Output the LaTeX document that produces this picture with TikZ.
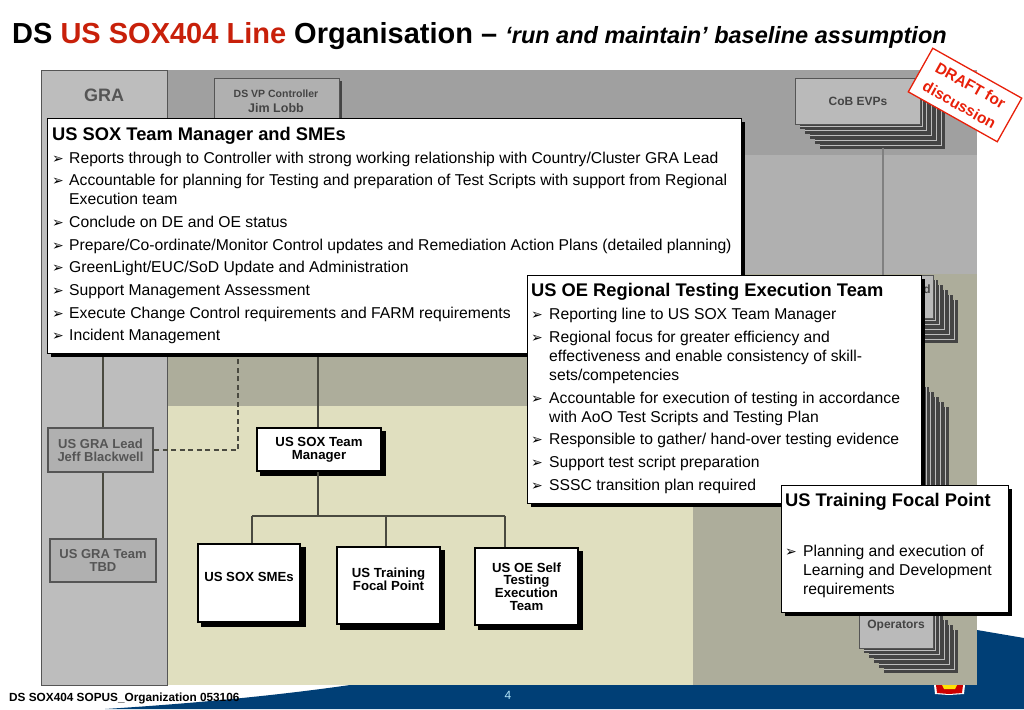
\documentclass[tikz,border=0pt]{standalone}
\usepackage{fontspec}
\setmainfont{Liberation Sans}
\newfontfamily\dejavu{DejaVu Sans}
\definecolor{bandA}{HTML}{A0A0A0}
\definecolor{bandB}{HTML}{B0B0B0}
\definecolor{bandC}{HTML}{ADAD9B}
\definecolor{bandD}{HTML}{E0DFBF}
\definecolor{graC}{HTML}{BDBDBD}
\definecolor{edgeC}{HTML}{555555}
\definecolor{linkC}{HTML}{4A4A40}
\definecolor{darkS}{HTML}{444444}
\definecolor{cardC}{HTML}{BABABA}
\definecolor{navyC}{HTML}{003F76}
\definecolor{redT}{HTML}{C8200A}
\definecolor{redD}{HTML}{E8200A}
\newcommand{\fs}[1]{\fontsize{#1}{#1}\selectfont}
\newcommand{\cardstack}[4]{%
  \foreach \i in {5,4,3,2,1}{
    \pgfmathsetmacro{\o}{\i*4.9}
    \fill[darkS] (#1+\o,#2+\o) rectangle (#3+\o,#4+\o);
    \draw[graC,line width=0.7pt] (#3+\o-3,#2+\o) -- (#3+\o-3,#4+\o-3) -- (#1+\o,#4+\o-3);
  }}
\tikzset{
  x=1pt,y=-1pt,
  panel/.style={draw=black,line width=0.8pt,fill=white,anchor=north west,inner sep=0},
  body/.style={anchor=base west,inner sep=0,font=\fs{15.7}},
  head/.style={anchor=base west,inner sep=0,font=\bfseries\fs{18.3}},
  tick/.style={anchor=base west,inner sep=0,font=\dejavu\fs{14}},
  orgbox/.style={draw=black,line width=2pt,fill=white,anchor=north west,align=center,inner sep=0,font=\bfseries\fs{13.2}},
  grabox/.style={draw=edgeC,line width=2pt,fill=bandB,text=edgeC,anchor=north west,align=center,inner sep=0,font=\bfseries\fs{13}},
  cardbox/.style={draw=edgeC,line width=1pt,fill=cardC,text=darkS,anchor=north west,align=center,inner sep=0,font=\bfseries\fs{12}},
  link/.style={draw=linkC,line width=1.2pt},
  graylink/.style={draw=gray,line width=1.2pt},
}
\begin{document}
\begin{tikzpicture}
\useasboundingbox (0,0) rectangle (1024,709);
\fill[white] (0,0) rectangle (1024,709);
% footer swoosh
\fill[navyC] (105,709) .. controls (200,703) and (280,695) .. (350,685) -- (977,685) -- (977,630) -- (1024,638) -- (1024,709) -- cycle;
% bands
\fill[bandA] (41,70) rectangle (977,155);
\fill[bandB] (41,155) rectangle (977,274);
\fill[bandC] (41,274) rectangle (977,406);
\fill[bandD] (41,406) rectangle (693,685);
\fill[bandC] (693,406) rectangle (977,685);
\draw[edgeC,line width=1pt,fill=graC] (41,70) rectangle (167,685);
\node[inner sep=0,font=\bfseries\fs{18},text=edgeC] (gra) at (104,95) {GRA};
% logo
\fill[white] (934,685) -- (935,694) -- (949,695) -- (964,694) -- (965,685) -- cycle;
\fill[red!80!black] (936,685) -- (937,693) -- (949,694) -- (962,693) -- (963,685) -- cycle;
\fill[yellow!85!orange] (942,685) -- (944,689) -- (955,689) -- (957,685) -- cycle;
% stacks
\cardstack{795}{78}{920}{124}
\node[cardbox,minimum width=125pt,minimum height=46pt] (cob) at (795,78) {CoB EVPs};
\coordinate (cobtap) at (883,148);
\coordinate (cobend) at (883,276);
\draw[graylink] (cobtap) -- (cobend);
\cardstack{810}{275}{933}{318}
\node[cardbox,minimum width=123pt,minimum height=43pt,text=darkS] (dnode) at (810,275) {};
\node[inner sep=0,font=\bfseries\fs{12},text=darkS] (dtext) at (927,289) {d};
\cardstack{800}{382}{924}{500}
\cardstack{859}{605}{933}{648}
\node[cardbox,minimum width=74pt,minimum height=43pt] (ops) at (859,605) {};
\node[inner sep=0,font=\bfseries\fs{12},text=darkS] (opst) at (896,626) {Operators};
% VP
\fill[darkS] (217,81) rectangle (342,125);
\node[cardbox,fill=bandB,minimum width=125pt,minimum height=42pt] (vp) at (214,78) {};
\node[inner sep=0,font=\bfseries\fs{10.5},text=darkS] (vpa) at (276,94) {DS VP Controller};
\node[inner sep=0,font=\bfseries\fs{12.5},text=darkS] (vpb) at (276,108) {Jim Lobb};
% GRA nodes
\node[grabox,minimum width=105pt,minimum height=44pt] (lead) at (47,427) {US GRA Lead\\Jeff Blackwell};
\node[grabox,minimum width=106pt,minimum height=43pt] (team) at (49,538) {US GRA Team\\TBD};
% Org nodes
\fill[black] (260,431) rectangle (385.5,476);
\node[orgbox,minimum width=124pt,minimum height=43pt] (mgr) at (256,427) {US SOX Team\\[-0.5pt]Manager};
\fill[black] (201,547) rectangle (305.5,627);
\node[orgbox,minimum width=102pt,minimum height=78pt] (smes) at (197,543) {US SOX SMEs\\\mbox{}};
\fill[black] (340,550) rectangle (445,629.5);
\node[orgbox,minimum width=103pt,minimum height=77pt] (train) at (336,546) {US Training\\[-0.5pt]Focal Point\\\mbox{}};
\fill[black] (478,551) rectangle (583,630);
\node[orgbox,minimum width=103pt,minimum height=77pt] (oes) at (474,547) {US OE Self\\[-0.5pt]Testing\\[-0.5pt]Execution\\[-0.5pt]Team};
% connectors
\coordinate (leadtap) at (103,353);
\coordinate (leadin) at (103,427);
\coordinate (leadout) at (103,473);
\coordinate (teamin) at (103,538);
\coordinate (mgrup) at (318,353);
\coordinate (dashup) at (238,353);
\coordinate (hub) at (318,516);
\coordinate (d1) at (252,516);
\coordinate (d2) at (386,516);
\coordinate (d3) at (505,516);
\draw[link] (leadtap) -- (leadin);
\draw[link] (leadout) -- (teamin);
\draw[link] (mgrup) -- (mgr.north -| mgrup);
\draw[link,dash pattern=on 5pt off 3.5pt] (lead.east) -| (dashup);
\draw[link] (mgr.south -| hub) -- (hub);
\draw[link] (d1) -- (d3);
\draw[link] (d1) -- (d1 |- smes.north);
\draw[link] (d2) -- (d2 |- train.north);
\draw[link] (d3) -- (d3 |- oes.north);
% panel 1
\fill[black] (51,122) rectangle (745,357);
\node[panel,minimum width=694pt,minimum height=235pt] (main) at (47,118) {};
\node[head] (h1) at (52,140) {US SOX Team Manager and SMEs};
\node[tick] (t1) at (52,163) {➢};\node[body] (l1) at (69,163) {Reports through to Controller with strong working relationship with Country/Cluster GRA Lead};
\node[tick] (t2) at (52,185) {➢};\node[body] (l2) at (69,185) {Accountable for planning for Testing and preparation of Test Scripts with support from Regional};
\node[body] (l2b) at (69,204) {Execution team};
\node[tick] (t3) at (52,227) {➢};\node[body] (l3) at (69,227) {Conclude on DE and OE status};
\node[tick] (t4) at (52,250) {➢};\node[body] (l4) at (69,250) {Prepare/Co-ordinate/Monitor Control updates and Remediation Action Plans (detailed planning)};
\node[tick] (t5) at (52,272) {➢};\node[body] (l5) at (69,272) {GreenLight/EUC/SoD Update and Administration};
\node[tick] (t6) at (52,295) {➢};\node[body] (l6) at (69,295) {Support Management Assessment};
\node[tick] (t7) at (52,318) {➢};\node[body] (l7) at (69,318) {Execute Change Control requirements and FARM requirements};
\node[tick] (t8) at (52,340) {➢};\node[body] (l8) at (69,340) {Incident Management};
% panel 2
\fill[black] (531,279) rectangle (925,507);
\node[panel,minimum width=394pt,minimum height=228pt] (oep) at (527,275) {};
\node[head] (h2) at (531,296) {US OE Regional Testing Execution Team};
\node[tick] (u1) at (531,319) {➢};\node[body] (m1) at (549,319) {Reporting line to US SOX Team Manager};
\node[tick] (u2) at (531,342) {➢};\node[body] (m2) at (549,342) {Regional focus for greater efficiency and};
\node[body] (m2b) at (549,361) {effectiveness and enable consistency of skill-};
\node[body] (m2c) at (549,380) {sets/competencies};
\node[tick] (u3) at (531,403) {➢};\node[body] (m3) at (549,403) {Accountable for execution of testing in accordance};
\node[body] (m3b) at (549,422) {with AoO Test Scripts and Testing Plan};
\node[tick] (u4) at (531,444) {➢};\node[body] (m4) at (549,444) {Responsible to gather/ hand-over testing evidence};
\node[tick] (u5) at (531,467) {➢};\node[body] (m5) at (549,467) {Support test script preparation};
\node[tick] (u6) at (531,490) {➢};\node[body] (m6) at (549,490) {SSSC transition plan required};
% panel 3
\fill[black] (785,489) rectangle (1012,616);
\node[panel,minimum width=227pt,minimum height=127pt] (tfp) at (781,485) {};
\node[head] (h3) at (785,506) {US Training Focal Point};
\node[tick] (v1) at (785,556) {➢};\node[body] (n1) at (803,556) {Planning and execution of};
\node[body] (n1b) at (803,575) {Learning and Development};
\node[body] (n1c) at (803,594) {requirements};
% draft stamp
\node[draw=redD,line width=1.3pt,fill=white,text=redD,rotate=-29.3,minimum width=102pt,minimum height=50pt,inner sep=0,align=center,font=\bfseries\fs{15.5}] (stamp) at (965,95) {DRAFT for\\[7pt]discussion};
% title
\node[anchor=base west,inner sep=0] (title) at (12,44) {\bfseries\fs{29}DS \textcolor{redT}{US SOX404 Line} Organisation – {\itshape\fs{23.5}‘run and maintain’ baseline assumption}};
% footer
\node[anchor=base west,inner sep=0,font=\bfseries\fs{11.8}] (ftr) at (9,701) {DS SOX404 SOPUS\_Organization 053106};
\node[inner sep=0,font=\fs{12},text=cyan!30] (pg) at (508,695) {4};
\end{tikzpicture}
\end{document}
